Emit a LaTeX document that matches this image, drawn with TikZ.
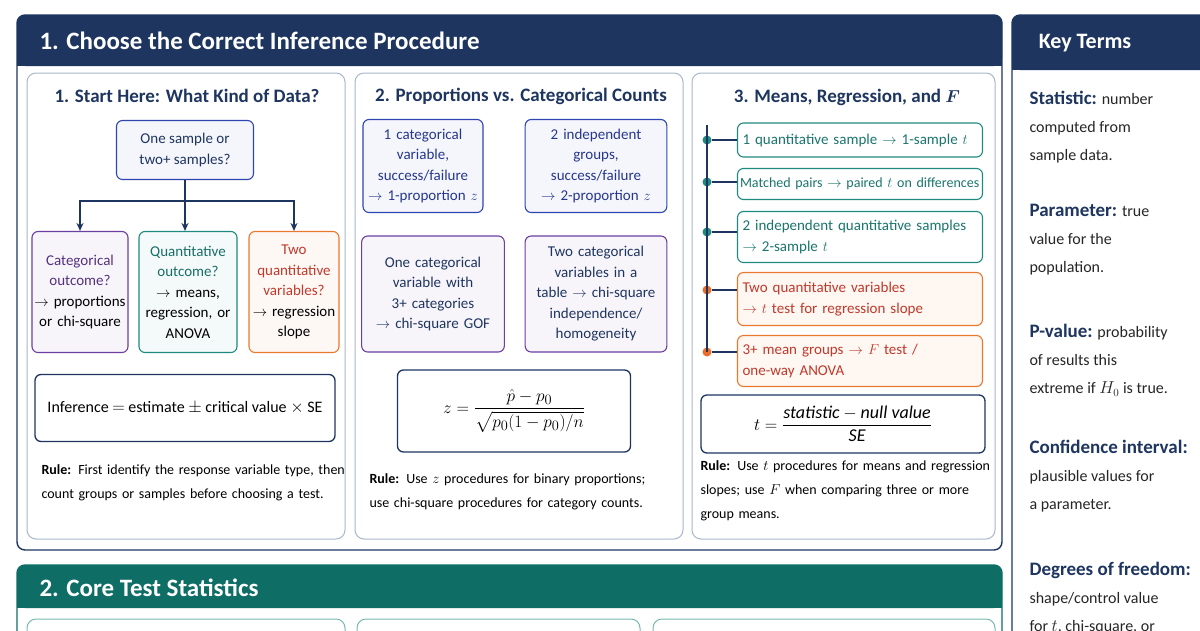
\documentclass[tikz,border=0pt]{standalone}
\usepackage{amsmath,bm}
\usepackage{fontspec}
\setmainfont{Carlito}
\usetikzlibrary{arrows.meta}
\definecolor{navy}{HTML}{1E3560}
\definecolor{tealh}{HTML}{0E6E66}
\definecolor{tealc}{HTML}{1F8A80}
\definecolor{purp}{HTML}{6A3FA0}
\definecolor{orng}{HTML}{E8792E}
\definecolor{redt}{HTML}{C0392B}
\definecolor{blueb}{HTML}{2F45B0}
\definecolor{subb}{HTML}{A9B7CC}
\begin{document}
\begin{tikzpicture}[x=1pt,y=-1pt,
  panel/.style={draw=navy,line width=1.4pt,rounded corners=8pt,fill=white},
  sub/.style={draw=subb,line width=1pt,rounded corners=9pt,fill=white},
  hdr/.style={font=\fontsize{25}{28}\selectfont\bfseries,text=white,anchor=west},
  stitle/.style={font=\fontsize{19}{22}\selectfont\bfseries,text=navy},
  bx/.style={draw=#1,line width=1.1pt,rounded corners=6pt,fill=#1!5,align=center,font=\fontsize{15}{20.5}\selectfont},
  fbox/.style={draw=navy,line width=1.3pt,rounded corners=6pt,fill=white,align=center},
  rule/.style={font=\fontsize{14}{24}\selectfont,anchor=north west,align=left,text width=310pt},
  kt/.style={font=\fontsize{16}{28}\selectfont,anchor=north west,align=left,text=black!85},
  dot/.style={circle,fill=#1,inner sep=0pt,minimum size=9pt},
  arr/.style={-{Stealth[length=8pt,width=7pt]},line width=1.2pt,draw=navy}]
\useasboundingbox (0,0) rectangle (1200,630);
\fill[white] (0,0) rectangle (1200,630);
% main panel 1
\draw[panel] (17,15) rectangle (1002,550);
\fill[navy,rounded corners=8pt] (17,15) rectangle (1002,66);
\fill[navy] (17,50) rectangle (1002,66);
\node[hdr] (h1) at (36,41) {1. Choose the Correct Inference Procedure};
% key terms
\draw[panel] (1012,15) rectangle (1215,660);
\fill[navy,rounded corners=8pt] (1012,15) rectangle (1215,70);
\fill[navy] (1012,55) rectangle (1215,70);
\node[font=\fontsize{22}{26}\selectfont\bfseries,text=white] (kth) at (1085,43) {Key Terms};
% panel 2
\draw[panel,draw=tealh] (17,565) rectangle (1002,680);
\fill[tealh,rounded corners=8pt] (17,565) rectangle (1002,608);
\fill[tealh] (17,595) rectangle (1002,608);
\node[hdr] (h2) at (36,588) {2. Core Test Statistics};
\draw[sub,draw=tealc!60] (27,619) rectangle (345,700);
\draw[sub,draw=tealc!60] (357,619) rectangle (640,700);
\draw[sub,draw=tealc!60] (653,619) rectangle (995,700);
% sub panels
\draw[sub] (27,73) rectangle (345,539);
\draw[sub] (355,73) rectangle (683,539);
\draw[sub] (692,73) rectangle (995,539);
% --- panel A
\node[stitle] (ta) at (187,96) {1. Start Here: What Kind of Data?};
\node[bx=blueb,minimum width=137pt,minimum height=59pt,text=navy] (q) at (185,150) {One sample or\\two+ samples?};
\node[bx=purp,minimum width=96pt,minimum height=121pt,text width=94pt,inner xsep=1pt] (pa) at (80,292) {\textcolor{purp!80!black}{Categorical}\\\textcolor{purp!80!black}{outcome?}\\$\rightarrow$ proportions\\or chi-square};
\node[bx=tealc,minimum width=98pt,minimum height=121pt,text width=96pt,inner xsep=1pt] (pb) at (188,292) {\textcolor{tealc!80!black}{Quantitative}\\\textcolor{tealc!80!black}{outcome?}\\$\rightarrow$ means,\\regression, or\\ANOVA};
\node[bx=orng,minimum width=90pt,minimum height=121pt,text width=88pt,inner xsep=1pt] (pc) at (294,292) {\textcolor{redt}{Two}\\\textcolor{redt}{quantitative}\\\textcolor{redt}{variables?}\\$\rightarrow$ regression\\slope};
\coordinate (j) at (185,201);
\draw[line width=1.2pt,navy] (q.south) -- (j);
\draw[arr] (j) -| (pa.north);
\draw[arr] (j) -- (pb.north-|j);
\draw[arr] (j) -| (pc.north);
\node[fbox,minimum width=300pt,minimum height=67pt,font=\fontsize{16}{18}\selectfont] (fa) at (185,408) {Inference $=$ estimate $\pm$ critical value $\times$ SE};
\node[rule] (ra) at (38,461) {\textbf{Rule:} First identify the response variable type, then\\count groups or samples before choosing a test.};
% --- panel B
\node[stitle] (tb) at (521,96) {2. Proportions vs. Categorical Counts};
\node[bx=blueb,minimum width=120pt,minimum height=93pt,text width=118pt,inner xsep=1pt,text=blueb!80!black] (b1) at (423,166) {1 categorical\\variable,\\success/failure\\$\rightarrow$ 1-proportion $z$};
\node[bx=blueb,minimum width=139pt,minimum height=93pt,text width=135pt,text=blueb!80!black] (b2) at (596,166) {2 independent\\groups,\\success/failure\\$\rightarrow$ 2-proportion $z$};
\node[bx=purp,minimum width=140pt,minimum height=116pt,text width=136pt,text=navy] (b3) at (433,294) {One categorical\\variable with\\3+ categories\\$\rightarrow$ chi-square GOF};
\node[bx=purp,minimum width=139pt,minimum height=116pt,text width=135pt,text=navy] (b4) at (596,294) {Two categorical\\variables in a\\table $\rightarrow$ chi-square\\independence/\\homogeneity};
\node[fbox,minimum width=233pt,minimum height=82pt,font=\fontsize{19}{22}\selectfont] (fb) at (514,411) {$z=\dfrac{\hat p-p_0}{\sqrt{p_0(1-p_0)/n}}$};
\node[rule] (rb) at (366,470) {\textbf{Rule:} Use $z$ procedures for binary proportions;\\use chi-square procedures for category counts.};
% --- panel C
\node[stitle] (tc) at (847,97) {3. Means, Regression, and $\bm{F}$};
\node[bx=tealc,fill=white,minimum width=245pt,minimum height=34pt,text width=235pt,align=left,text=tealc!85!black] (c1) at (860,140) {1 quantitative sample $\rightarrow$ 1-sample $t$};
\node[bx=tealc,fill=white,minimum width=245pt,minimum height=31pt,text width=240pt,inner xsep=2pt,align=left,text=tealc!85!black,font=\fontsize{14}{17}\selectfont] (c2) at (860,184) {Matched pairs $\rightarrow$ paired $t$ on differences};
\node[bx=tealc,fill=white,minimum width=245pt,minimum height=51pt,text width=235pt,align=left,text=tealc!85!black] (c3) at (860,237) {2 independent quantitative samples\\$\rightarrow$ 2-sample $t$};
\node[bx=orng,fill=orng!6,minimum width=245pt,minimum height=53pt,text width=235pt,align=left,text=redt] (c4) at (860,299) {Two quantitative variables\\$\rightarrow$ $t$ test for regression slope};
\node[bx=orng,fill=orng!6,minimum width=245pt,minimum height=51pt,text width=235pt,align=left,text=redt] (c5) at (860,361) {3+ mean groups $\rightarrow$ $F$ test /\\one-way ANOVA};
\node[dot=tealc] (d1) at (707,140) {};
\node[dot=tealc] (d2) at (707,182) {};
\node[dot=tealc] (d3) at (707,232) {};
\node[dot=orng!90!red] (d4) at (707,290) {};
\node[dot=orng!90!red] (d5) at (707,352) {};
\draw[line width=1.3pt,navy] (707,125) -- (d5.center);
\foreach \i in {1,...,5}{\draw[line width=1.1pt,navy] (d\i) -- (c\i.west|-d\i);}
\node[fbox,minimum width=284pt,minimum height=58pt,font=\fontsize{18}{21}\selectfont] (fc) at (843,424) {$t=\dfrac{\textit{statistic}-\textit{null value}}{\textit{SE}}$};
\node[rule] (rc) at (697,457) {\textbf{Rule:} Use $t$ procedures for means and regression\\slopes; use $F$ when comparing three or more\\group means.};
% key terms text
\node[kt] (k1) at (1026,88) {\textcolor{navy}{\bfseries\fontsize{19}{28}\selectfont Statistic:} number\\computed from\\sample data.};
\node[kt] (k2) at (1026,201) {\textcolor{navy}{\bfseries\fontsize{19}{28}\selectfont Parameter:} true\\value for the\\population.};
\node[kt] (k3) at (1026,321) {\textcolor{navy}{\bfseries\fontsize{19}{28}\selectfont P-value:} probability\\of results this\\extreme if $H_0$ is true.};
\node[kt] (k4) at (1026,437) {\textcolor{navy}{\bfseries\fontsize{19}{28}\selectfont Confidence interval:}\\plausible values for\\a parameter.};
\node[kt] (k5) at (1026,559) {\textcolor{navy}{\bfseries\fontsize{19}{28}\selectfont Degrees of freedom:}\\shape/control value\\for $t$, chi-square, or};
\end{tikzpicture}
\end{document}
